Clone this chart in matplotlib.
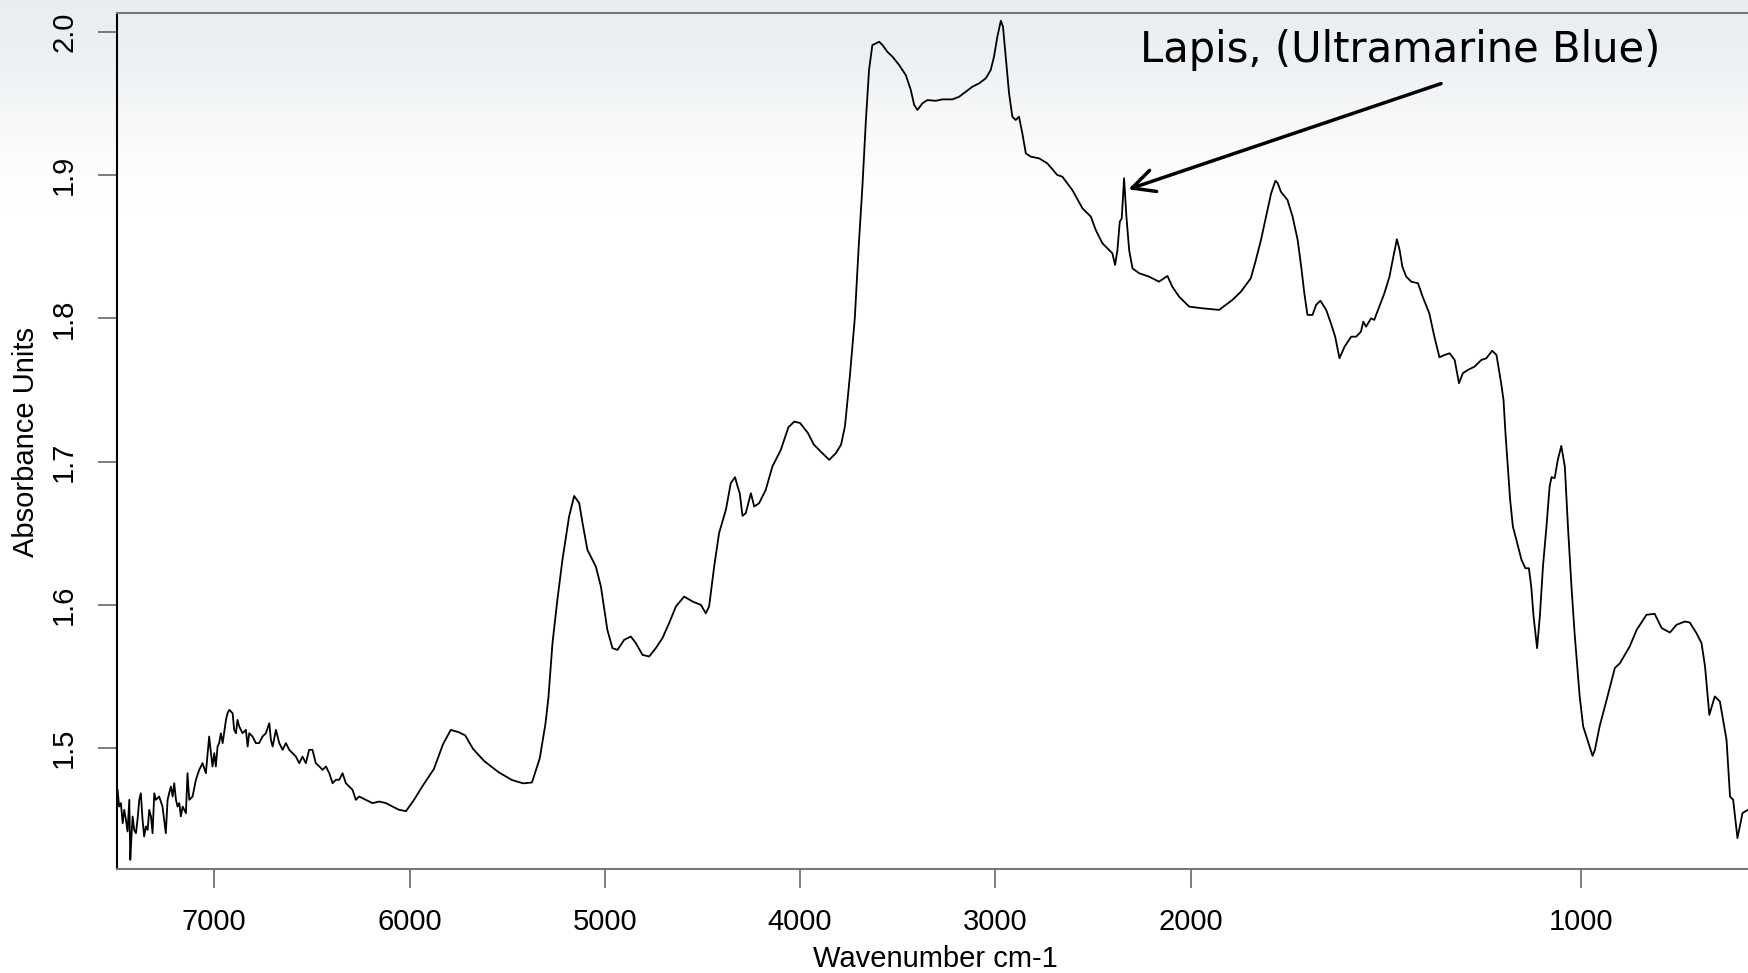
import numpy as np
import matplotlib
matplotlib.use("Agg")
import matplotlib.pyplot as plt

# FTIR spectrum of lapis
# noisy near-IR part
wn_nir = [7495, 7487, 7478, 7469, 7461, 7452, 7444, 7435, 7430, 7423, 7418, 7410, 7401, 7393,
          7384, 7376, 7367, 7359, 7350, 7341, 7333, 7324, 7316, 7307, 7299, 7282, 7265, 7248,
          7239, 7231, 7222, 7213, 7205, 7196, 7188, 7179, 7171, 7162, 7145, 7137, 7128, 7111,
          7094, 7077, 7060, 7043, 7026, 7017, 7009, 7000, 6992, 6983, 6975, 6966, 6957, 6940,
          6932, 6923, 6906, 6898, 6889, 6881, 6872, 6855, 6838, 6829, 6821, 6804, 6787, 6770,
          6753, 6736, 6718, 6710, 6701, 6684, 6667, 6650, 6633, 6616, 6599, 6582, 6565, 6548,
          6531, 6514, 6497, 6480, 6462, 6445, 6428, 6411, 6394, 6377, 6360, 6343, 6326, 6309,
          6292, 6275, 6258, 6224, 6190, 6155, 6121, 6087, 6053]
ab_nir = [1.4709, 1.4592, 1.4616, 1.4476, 1.4569, 1.4499, 1.4418, 1.4639, 1.4220, 1.4406,
          1.4523, 1.4429, 1.4406, 1.4499, 1.4639, 1.4685, 1.4499, 1.4383, 1.4453, 1.4429,
          1.4569, 1.4523, 1.4406, 1.4685, 1.4639, 1.4662, 1.4592, 1.4406, 1.4639, 1.4685,
          1.4732, 1.4662, 1.4755, 1.4639, 1.4592, 1.4616, 1.4523, 1.4592, 1.4546, 1.4825,
          1.4639, 1.4662, 1.4779, 1.4848, 1.4895, 1.4825, 1.5081, 1.4965, 1.4872, 1.4965,
          1.4872, 1.5011, 1.5035, 1.5104, 1.5035, 1.5197, 1.5244, 1.5267, 1.5244, 1.5128,
          1.5104, 1.5197, 1.5151, 1.5104, 1.5128, 1.5011, 1.5104, 1.5081, 1.5035, 1.5035,
          1.5081, 1.5104, 1.5174, 1.5058, 1.5011, 1.5128, 1.5035, 1.4988, 1.5035, 1.4988,
          1.4965, 1.4941, 1.4895, 1.4941, 1.4895, 1.4988, 1.4988, 1.4895, 1.4872, 1.4848,
          1.4872, 1.4825, 1.4755, 1.4779, 1.4779, 1.4825, 1.4755, 1.4732, 1.4709, 1.4639,
          1.4662, 1.4639, 1.4616, 1.4627, 1.4616, 1.4592, 1.4569]

# 6000 - 3700
wn_mid = [6018, 5978, 5932, 5875, 5829, 5789, 5749, 5715, 5675, 5618, 5544, 5475, 5418, 5373,
          5333, 5304, 5289, 5268, 5243, 5217, 5183, 5157, 5131, 5114, 5089, 5046, 5020, 4987,
          4961, 4935, 4901, 4867, 4841, 4807, 4773, 4739, 4705, 4671, 4636, 4594, 4551, 4508,
          4483, 4466, 4440, 4415, 4380, 4355, 4333, 4321, 4309, 4295, 4278, 4252, 4235, 4210,
          4176, 4142, 4099, 4060, 4030, 4000, 3960, 3930, 3894, 3851, 3817, 3790, 3770, 3745,
          3720, 3700]
ab_mid = [1.4560, 1.4637, 1.4738, 1.4855, 1.5026, 1.5127, 1.5112, 1.5089, 1.4995, 1.4910,
          1.4832, 1.4777, 1.4754, 1.4760, 1.4930, 1.5170, 1.5349, 1.5733, 1.6035, 1.6315,
          1.6617, 1.6761, 1.6710, 1.6571, 1.6384, 1.6268, 1.6128, 1.5826, 1.5698, 1.5686,
          1.5756, 1.5779, 1.5733, 1.5651, 1.5640, 1.5698, 1.5768, 1.5872, 1.5989, 1.6058,
          1.6024, 1.6000, 1.5942, 1.5989, 1.6268, 1.6501, 1.6664, 1.6850, 1.6892, 1.6831,
          1.6780, 1.6622, 1.6641, 1.6780, 1.6687, 1.6710, 1.6803, 1.6966, 1.7082, 1.7240,
          1.7280, 1.7270, 1.7200, 1.7120, 1.7070, 1.7013, 1.7059, 1.7120, 1.7250, 1.7600,
          1.8000, 1.8500]

# 3700 - 1900
wn_ch = [3681, 3663, 3647, 3630, 3612, 3595, 3578, 3553, 3527, 3493, 3459, 3433, 3416, 3399,
         3374, 3348, 3305, 3271, 3220, 3186, 3152, 3118, 3083, 3049, 3024, 3007, 2990, 2972,
         2961, 2947, 2930, 2913, 2896, 2879, 2862, 2844, 2819, 2776, 2734, 2683, 2657, 2606,
         2554, 2511, 2486, 2452, 2418, 2401, 2387, 2375, 2363, 2353, 2341, 2329, 2315, 2298,
         2264, 2213, 2162, 2119, 2094, 2059, 2008, 1970, 1927]
ab_ch = [1.8920, 1.9386, 1.9735, 1.9909, 1.9921, 1.9932, 1.9909, 1.9862, 1.9828, 1.9770,
         1.9700, 1.9595, 1.9491, 1.9456, 1.9502, 1.9525, 1.9520, 1.9530, 1.9530, 1.9548,
         1.9583, 1.9618, 1.9642, 1.9677, 1.9735, 1.9828, 1.9967, 2.0079, 2.0037, 1.9828,
         1.9572, 1.9409, 1.9386, 1.9409, 1.9293, 1.9153, 1.9130, 1.9118, 1.9083, 1.9002,
         1.8990, 1.8897, 1.8769, 1.8711, 1.8618, 1.8525, 1.8478, 1.8455, 1.8374, 1.8478,
         1.8676, 1.8699, 1.8979, 1.8711, 1.8478, 1.8350, 1.8316, 1.8292, 1.8257, 1.8297,
         1.8222, 1.8152, 1.8083, 1.8071, 1.8060]

# fingerprint region
wn_fp = [1893, 1871, 1846, 1833, 1820, 1807, 1794, 1783, 1777, 1769, 1752, 1739, 1726, 1717,
         1709, 1701, 1688, 1679, 1668, 1653, 1641, 1630, 1619, 1606, 1589, 1576, 1564, 1558,
         1551, 1538, 1530, 1517, 1504, 1491, 1481, 1472, 1465, 1458, 1448, 1435, 1418, 1406,
         1389, 1376, 1363, 1350, 1337, 1324, 1313, 1303, 1290, 1273, 1256, 1243, 1228, 1217,
         1205, 1199, 1194, 1188, 1182, 1175, 1166, 1153, 1143, 1134, 1128, 1122, 1113, 1106,
         1098, 1089, 1081, 1076, 1068, 1060, 1051, 1042, 1034, 1025, 1017, 1004, 995, 971,
         965, 953, 935, 914, 901, 876, 858, 833, 812, 794, 773, 756, 735, 722, 705, 692, 683,
         672, 658, 645, 628, 619, 611, 600, 587, 573]
ab_fp = [1.8130, 1.8188, 1.8281, 1.8409, 1.8548, 1.8711, 1.8874, 1.8962, 1.8944, 1.8885,
         1.8827, 1.8711, 1.8548, 1.8362, 1.8176, 1.8025, 1.8025, 1.8094, 1.8124, 1.8060,
         1.7967, 1.7873, 1.7722, 1.7803, 1.7873, 1.7873, 1.7908, 1.7978, 1.7943, 1.8001,
         1.7990, 1.8083, 1.8176, 1.8292, 1.8432, 1.8553, 1.8478, 1.8362, 1.8292, 1.8257,
         1.8246, 1.8152, 1.8036, 1.7873, 1.7729, 1.7745, 1.7757, 1.7710, 1.7548, 1.7618,
         1.7641, 1.7664, 1.7710, 1.7722, 1.7775, 1.7745, 1.7548, 1.7431, 1.7199, 1.6966,
         1.6733, 1.6547, 1.6454, 1.6315, 1.6256, 1.6256, 1.6128, 1.5919, 1.5698, 1.5919,
         1.6268, 1.6547, 1.6826, 1.6892, 1.6885, 1.7013, 1.7110, 1.6966, 1.6547, 1.6128,
         1.5803, 1.5361, 1.5151, 1.4946, 1.4988, 1.5151, 1.5337, 1.5559, 1.5593, 1.5709,
         1.5826, 1.5931, 1.5938, 1.5838, 1.5807, 1.5861, 1.5884, 1.5877, 1.5803, 1.5733,
         1.5570, 1.5232, 1.5361, 1.5326, 1.5058, 1.4662, 1.4639, 1.4372, 1.4547, 1.4569]

x_ticks = [7000, 6000, 5000, 4000, 3000, 2000, 1000]
y_ticks = [1.5, 1.6, 1.7, 1.8, 1.9, 2.0]
note = "Lapis, (Ultramarine Blue)"
note_tip = (2319, 1.8902)
note_tail = (1359, 1.9640)
note_text = (1463, 1.9874)

wn = np.concatenate([wn_nir, wn_mid, wn_ch, wn_fp])
ab = np.concatenate([ab_nir, ab_mid, ab_ch, ab_fp])


# OPUS style axis: below 2000 cm-1 the scale is stretched 2x
def fwd(w):
    w = np.asarray(w, dtype=float)
    return np.where(w >= 2000, w, 2 * w - 2000)


def inv(u):
    u = np.asarray(u, dtype=float)
    return np.where(u >= 2000, u, (u + 2000) / 2)


fig = plt.figure(figsize=(17.48, 9.73), dpi=100)

# light grey gradient at the top of the slide
bg = fig.add_axes([0, 0, 1, 1], zorder=-5)
yy = np.linspace(0, 1, 600)
t = np.clip(yy / 0.22, 0, 1)
t = t * t * (3 - 2 * t)   # smoothstep, no visible edge
top = np.array([0.918, 0.933, 0.945])
col = top[None, :] * (1 - t[:, None]) + 1.0 * t[:, None]
bg.imshow(col[:, None, :], aspect='auto', extent=[0, 1, 1, 0])
bg.set_xlim(0, 1)
bg.set_ylim(1, 0)
bg.axis('off')

ax = fig.add_axes([117 / 1748, 1 - 869 / 973, 1 - 117 / 1748, (869 - 13) / 973])
ax.patch.set_alpha(0)

ax.plot(wn, ab, color='black', lw=1.3)

ax.set_xscale('function', functions=(fwd, inv))
ax.set_xlim(7498, 573)
ax.set_ylim(1.4156, 2.0133)

ax.set_xticks(x_ticks)
ax.set_xticklabels([str(v) for v in x_ticks])
ax.set_yticks(y_ticks)
ax.set_yticklabels(["%.1f" % v for v in y_ticks], rotation=90, va='center')
ax.xaxis.set_minor_locator(matplotlib.ticker.NullLocator())

for lab in ax.get_xticklabels() + ax.get_yticklabels():
    lab.set_fontfamily('Liberation Sans')
    lab.set_fontsize(21)
ax.tick_params(axis='both', length=14, width=1.2, color='#666666', pad=14)

ax.spines['right'].set_visible(False)
ax.spines['left'].set_color('black')
ax.spines['top'].set_color('#777777')
ax.spines['bottom'].set_color('#777777')
for s in ['left', 'top', 'bottom']:
    ax.spines[s].set_linewidth(1.5)

ax.set_xlabel("Wavenumber cm-1", fontfamily='Liberation Sans', fontsize=21, va='center')
ax.xaxis.set_label_coords(0.502, -0.105)
ax.set_ylabel("Absorbance Units", fontfamily='Liberation Sans', fontsize=21, va='center')
ax.yaxis.set_label_coords(-0.0558, 0.499)

ax.annotate("", xy=note_tip, xytext=note_tail,
            arrowprops=dict(arrowstyle='->', color='black', lw=2.5,
                            mutation_scale=40, shrinkA=0, shrinkB=0))
ax.text(note_text[0], note_text[1], note, fontfamily='DejaVu Sans', fontsize=30,
        ha='center', va='center', color='black')

fig.savefig("out.png", dpi=100)
